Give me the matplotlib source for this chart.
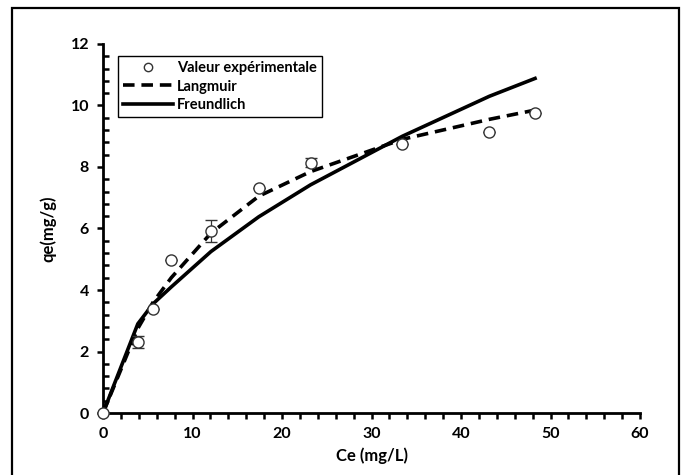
import matplotlib.pyplot as plt
from matplotlib.patches import Rectangle
from matplotlib.lines import Line2D
from matplotlib.ticker import MultipleLocator

plt.rcParams['font.family'] = ['Lato', 'DejaVu Sans']
plt.rcParams['font.weight'] = 'bold'

ce = [0, 3.89, 5.59, 7.63, 12.06, 17.4, 23.19, 33.45, 43.17, 48.27]
qe = [0, 2.31, 3.38, 4.97, 5.93, 7.33, 8.14, 8.75, 9.14, 9.77]
qe_err = [0, 0.2, 0, 0, 0.36, 0, 0.14, 0, 0, 0]

# model curves at the same Ce values
langmuir = [0, 2.75, 3.6, 4.4, 5.85, 7.05, 7.85, 8.9, 9.55, 9.85]
freundlich = [0, 2.9, 3.55, 4.1, 5.25, 6.38, 7.42, 9.0, 10.3, 10.88]

fig = plt.figure(figsize=(6.84, 4.75), dpi=100)
ax = fig.add_axes([0.1506, 0.1305, 0.7851, 0.7769])

dash = (0, (3.2, 1.9))
ax.plot(ce, langmuir, color='black', lw=2.6, ls=dash, zorder=2)
ax.plot(ce, freundlich, color='black', lw=2.6, zorder=2)
ax.errorbar(ce, qe, yerr=qe_err, fmt='o', mfc='white', mec='#333333', mew=1.0, ms=8,
            ecolor='#333333', elinewidth=0.9, capsize=4, capthick=0.9,
            zorder=3, clip_on=False)

ax.set_xlim(0, 60)
ax.set_ylim(0, 12)
ax.xaxis.set_major_locator(MultipleLocator(10))
ax.xaxis.set_minor_locator(MultipleLocator(2))
ax.yaxis.set_major_locator(MultipleLocator(2))
ax.yaxis.set_minor_locator(MultipleLocator(0.4))

for s in ['top', 'right']:
    ax.spines[s].set_visible(False)
for s in ['left', 'bottom']:
    ax.spines[s].set_linewidth(2)

ax.tick_params(axis='x', which='both', direction='out', length=4, width=1.8, labelsize=11.5, pad=6)
ax.tick_params(axis='y', which='major', direction='out', length=4, width=1.8, labelsize=11.5, pad=6)
ax.tick_params(axis='y', which='minor', direction='in', length=4, width=1.8)

ax.set_xlabel('Ce (mg/L)', fontsize=12, fontweight='bold', labelpad=5)
ax.set_ylabel('qe(mg/g)', fontsize=12, fontweight='bold', labelpad=10)

handles = [
    Line2D([], [], ls='none', marker='o', ms=6, mfc='white', mec='#333333', mew=1.0),
    Line2D([], [], color='black', lw=2.6, ls=dash),
    Line2D([], [], color='black', lw=2.6),
]
labels = ['Valeur expérimentale', 'Langmuir', 'Freundlich']
leg = ax.legend(handles, labels,
                loc='upper left', bbox_to_anchor=(0.1725, 0.882), bbox_transform=fig.transFigure,
                fancybox=False, edgecolor='black', framealpha=1, fontsize=10.5,
                handlelength=3.4, handletextpad=0.3, labelspacing=0.3, borderpad=0.35,
                borderaxespad=0)
leg.get_frame().set_linewidth(1.0)
for t in leg.get_texts():
    t.set_fontweight('bold')

fig.patches.append(Rectangle((0.0175, -0.05), 0.975, 1.033, transform=fig.transFigure,
                             fill=False, edgecolor='black', lw=1.6))

fig.savefig('out.png', dpi=100)
